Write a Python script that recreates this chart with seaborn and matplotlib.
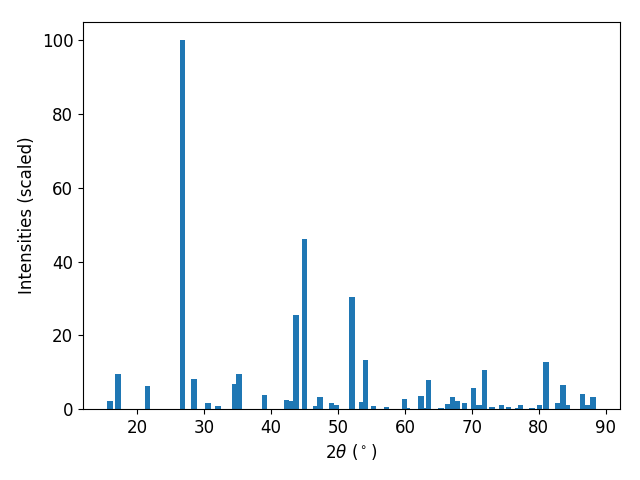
import numpy as np
import matplotlib
matplotlib.use('Agg')
import matplotlib.pyplot as plt
import seaborn as sns

two_theta = [15.95, 17.15, 21.5, 26.8, 28.5, 30.6, 32.1, 34.5, 35.2, 39.0,
             42.3, 43.1, 43.75, 44.96, 46.6, 47.3, 49.0, 49.7, 52.1, 53.6,
             54.1, 55.3, 57.3, 59.95, 60.4, 62.4, 62.9, 63.5, 65.4, 66.4,
             67.1, 67.8, 68.95, 70.3, 71.1, 71.9, 72.99, 74.4, 75.5, 76.8,
             77.3, 79.0, 80.1, 81.1, 82.9, 83.6, 84.3, 86.5, 87.3, 88.1]
intensity = [2.2, 9.5, 6.2, 100.0, 8.1, 1.6, 0.8, 6.8, 9.5, 3.8,
             2.4, 2.2, 25.5, 46.0, 0.8, 3.3, 1.6, 1.2, 30.5, 1.9,
             13.3, 0.8, 0.5, 2.7, 0.3, 3.5, 0.3, 7.9, 0.3, 1.3,
             3.3, 2.2, 1.6, 5.7, 1.2, 10.6, 0.5, 1.2, 0.5, 0.4,
             1.1, 0.3, 1.1, 12.7, 1.6, 6.5, 1.1, 4.1, 1.1, 3.3]

plt.rcParams['font.size'] = 12
color = sns.color_palette()[0]

fig, ax = plt.subplots(figsize=(6.4, 4.8), dpi=100)
ax.bar(two_theta, intensity, width=0.8, color=color)
ax.set_xlabel(r'$2\theta$ ($^\circ$)')
ax.set_ylabel('Intensities (scaled)')
fig.subplots_adjust(left=0.1297, right=0.9688, top=0.9542, bottom=0.1479)
plt.savefig('out.png', dpi=100)
